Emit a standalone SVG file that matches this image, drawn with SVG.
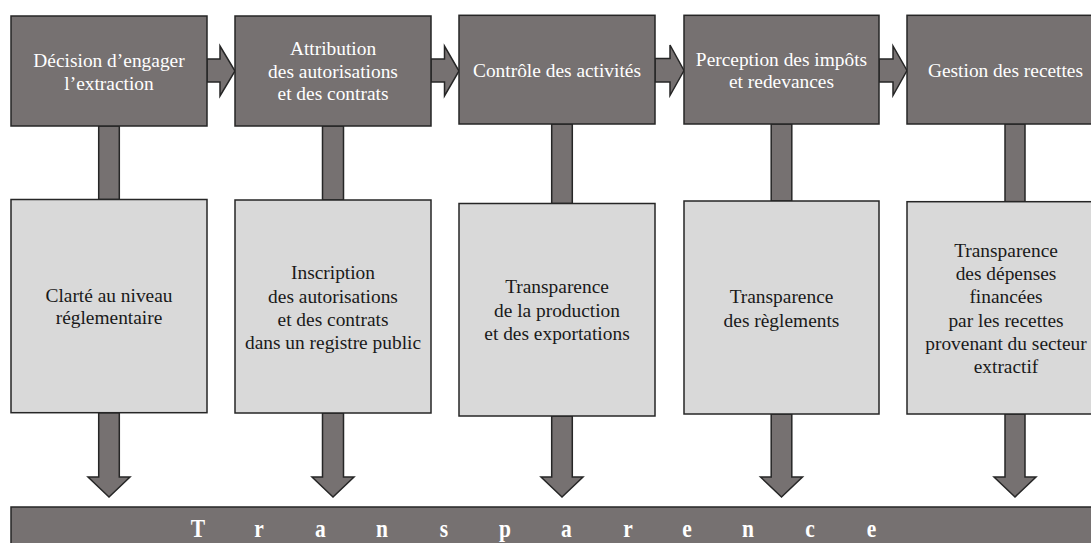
<svg xmlns="http://www.w3.org/2000/svg" width="1091" height="543" viewBox="0 0 1091 543">
<style>
.top{fill:#767171;stroke:#262626;stroke-width:1.5}
.low{fill:#d9d9d9;stroke:#262626;stroke-width:1.5}
.conn{fill:#767171;stroke:#262626;stroke-width:1.5;stroke-linejoin:miter}
.tw{font-family:"Liberation Serif","Times New Roman",serif;font-size:19.4px;fill:#ffffff;text-anchor:middle}
.tb{font-family:"Liberation Serif","Times New Roman",serif;font-size:19.4px;fill:#1a1a1a;text-anchor:middle}
.bar{font-family:"Liberation Serif","Times New Roman",serif;font-size:21.5px;font-weight:bold;fill:#ffffff;text-anchor:middle}
</style>
<rect width="1091" height="543" fill="#ffffff"/>
<g id="connectors">
<path class="conn" d="M207,59 H220 V46 L235,71 L220,96 V82 H207 Z"/>
<path class="conn" d="M431,59 H444.5 V46 L459,71 L444.5,96 V82 H431 Z"/>
<path class="conn" d="M655,58.5 H670 V45 L684,70.5 L670,95.5 V82 H655 Z"/>
<path class="conn" d="M879,59 H893 V46 L907,70.5 L893,95.5 V82 H879 Z"/>
<rect class="conn" x="98.7" y="126" width="20.6" height="73.5"/>
<rect class="conn" x="322.5" y="126" width="21" height="74"/>
<rect class="conn" x="551.7" y="124" width="20.6" height="79.5"/>
<rect class="conn" x="771.2" y="124" width="20.6" height="77"/>
<rect class="conn" x="1005" y="124" width="20" height="77.7"/>
<path class="conn" d="M98.7,412.7 V477 H88 L109,497 L130,477 H119.3 V412.7 Z"/>
<path class="conn" d="M322.5,413 V477 H312 L333,497 L354,477 H343.5 V413 Z"/>
<path class="conn" d="M551.7,416 V477 H541 L562,497 L583,477 H572.3 V416 Z"/>
<path class="conn" d="M771.2,414 V477 H760.5 L781.5,497 L802.5,477 H791.8 V414 Z"/>
<path class="conn" d="M1005,414 V477 H994 L1015,497 L1036,477 H1025 V414 Z"/>
</g>
<g id="n1">
<rect class="top" x="11" y="16" width="196" height="110"/>
<text class="tw" x="109" y="67">Décision d’engager</text>
<text class="tw" x="109" y="89.5">l’extraction</text>
</g>
<g id="n2">
<rect class="top" x="235" y="16" width="196" height="110"/>
<text class="tw" x="333" y="55">Attribution</text>
<text class="tw" x="333" y="77.5">des autorisations</text>
<text class="tw" x="333" y="100">et des contrats</text>
</g>
<g id="n3">
<rect class="top" x="459" y="15.3" width="196" height="108.7"/>
<text class="tw" x="557" y="77">Contrôle des activités</text>
</g>
<g id="n4">
<rect class="top" x="684" y="15.3" width="195" height="108.7"/>
<text class="tw" x="781.5" y="65.7">Perception des impôts</text>
<text class="tw" x="781.5" y="88">et redevances</text>
</g>
<g id="n5">
<rect class="top" x="907" y="15.3" width="196" height="108.7"/>
<text class="tw" x="1005.5" y="77">Gestion des recettes</text>
</g>
<g id="l1">
<rect class="low" x="11" y="199.5" width="196" height="213.2"/>
<text class="tb" x="109" y="301.7">Clarté au niveau</text>
<text class="tb" x="109" y="324.3">réglementaire</text>
</g>
<g id="l2">
<rect class="low" x="235" y="200" width="196" height="213"/>
<text class="tb" x="333" y="279.3">Inscription</text>
<text class="tb" x="333" y="302.7">des autorisations</text>
<text class="tb" x="333" y="326">et des contrats</text>
<text class="tb" x="333" y="349.3">dans un registre public</text>
</g>
<g id="l3">
<rect class="low" x="459" y="203.5" width="196" height="212.5"/>
<text class="tb" x="557" y="293.3">Transparence</text>
<text class="tb" x="557" y="316.7">de la production</text>
<text class="tb" x="557" y="340">et des exportations</text>
</g>
<g id="l4">
<rect class="low" x="684" y="201" width="195" height="213"/>
<text class="tb" x="781.5" y="303.3">Transparence</text>
<text class="tb" x="781.5" y="326.7">des règlements</text>
</g>
<g id="l5">
<rect class="low" x="907" y="201.7" width="196" height="212.3"/>
<text class="tb" x="1006" y="256.7">Transparence</text>
<text class="tb" x="1006" y="280">des dépenses</text>
<text class="tb" x="1006" y="303.3">financées</text>
<text class="tb" x="1006" y="326.7">par les recettes</text>
<text class="tb" x="1006" y="350">provenant du secteur</text>
<text class="tb" x="1006" y="373.3">extractif</text>
</g>
<g id="bar">
<rect class="top" x="11" y="507" width="1095" height="50"/>
<text class="bar" transform="translate(0,536.7) scale(1,1.2)" x="198 259 320.5 382 444 505 566.5 628 687 748 810 871.5" y="0">Transparence</text>
</g>
</svg>
